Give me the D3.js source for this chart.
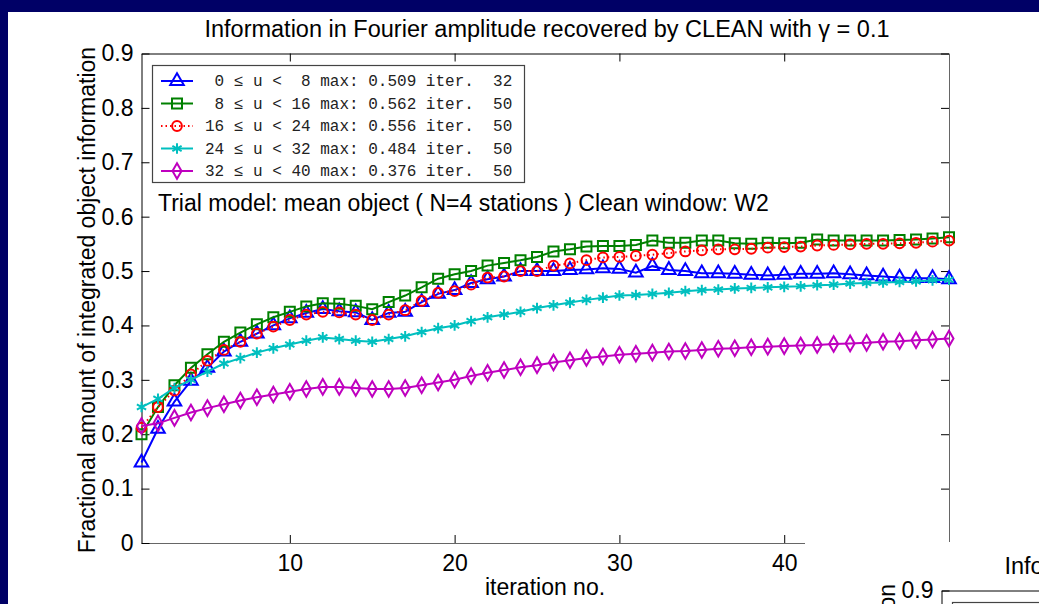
<!DOCTYPE html>
<html>
<head>
<script src="https://cdn.jsdelivr.net/npm/d3@7"></script>
<style>
body { margin: 0; background: #000066; }
text { font-family: "Liberation Sans", Arial, sans-serif; }
</style>
</head>
<body>
<script>
// iteration numbers 1..50
var iterations = d3.range(1, 51);

var band0 = [0.148, 0.210, 0.260, 0.298, 0.322, 0.352, 0.370, 0.385, 0.400, 0.413,
             0.423, 0.430, 0.426, 0.424, 0.410, 0.423, 0.425, 0.443, 0.458, 0.465,
             0.478, 0.485, 0.490, 0.500, 0.500, 0.500, 0.502, 0.503, 0.505, 0.504,
             0.497, 0.509, 0.502, 0.500, 0.496, 0.496, 0.495, 0.493, 0.492, 0.493,
             0.495, 0.495, 0.496, 0.494, 0.492, 0.490, 0.488, 0.487, 0.487, 0.485];
var band8 = [0.200, 0.250, 0.290, 0.322, 0.347, 0.370, 0.387, 0.402, 0.415, 0.425,
             0.435, 0.441, 0.440, 0.436, 0.430, 0.443, 0.455, 0.470, 0.486, 0.494,
             0.500, 0.510, 0.515, 0.520, 0.526, 0.536, 0.540, 0.545, 0.546, 0.546,
             0.548, 0.556, 0.552, 0.552, 0.556, 0.556, 0.551, 0.550, 0.552, 0.551,
             0.552, 0.558, 0.556, 0.556, 0.556, 0.556, 0.557, 0.558, 0.560, 0.562];
var band16 = [0.212, 0.250, 0.280, 0.310, 0.335, 0.355, 0.370, 0.385, 0.398, 0.410,
              0.420, 0.425, 0.424, 0.420, 0.410, 0.420, 0.428, 0.445, 0.460, 0.463,
              0.475, 0.488, 0.490, 0.500, 0.500, 0.510, 0.514, 0.520, 0.525, 0.526,
              0.528, 0.530, 0.533, 0.536, 0.538, 0.540, 0.540, 0.541, 0.543, 0.544,
              0.545, 0.547, 0.548, 0.549, 0.550, 0.550, 0.551, 0.552, 0.554, 0.556];
var band24 = [0.250, 0.265, 0.285, 0.300, 0.315, 0.330, 0.340, 0.350, 0.358, 0.365,
              0.372, 0.378, 0.375, 0.372, 0.370, 0.375, 0.380, 0.388, 0.395, 0.400,
              0.408, 0.415, 0.420, 0.425, 0.432, 0.437, 0.442, 0.447, 0.451, 0.455,
              0.456, 0.458, 0.460, 0.463, 0.465, 0.466, 0.468, 0.469, 0.470, 0.471,
              0.472, 0.474, 0.475, 0.477, 0.478, 0.479, 0.480, 0.481, 0.483, 0.484];
var band32 = [0.215, 0.220, 0.230, 0.240, 0.248, 0.255, 0.262, 0.268, 0.273, 0.278,
              0.283, 0.287, 0.287, 0.285, 0.283, 0.283, 0.285, 0.290, 0.295, 0.300,
              0.307, 0.313, 0.318, 0.323, 0.327, 0.332, 0.336, 0.340, 0.343, 0.346,
              0.348, 0.350, 0.352, 0.353, 0.355, 0.357, 0.358, 0.360, 0.361, 0.362,
              0.363, 0.364, 0.366, 0.367, 0.368, 0.370, 0.371, 0.373, 0.374, 0.376];

var legendLabels = [" 0 \u2264 u <  8 max: 0.509 iter.  32",
                    " 8 \u2264 u < 16 max: 0.562 iter.  50",
                    "16 \u2264 u < 24 max: 0.556 iter.  50",
                    "24 \u2264 u < 32 max: 0.484 iter.  50",
                    "32 \u2264 u < 40 max: 0.376 iter.  50"];
var xTicks = [10, 20, 30, 40];
var yTicks = [0, 0.1, 0.2, 0.3, 0.4, 0.5, 0.6, 0.7, 0.8, 0.9];

var series = [
  {values: band0,  color: "#0000ff", symbol: d3.symbolTriangle, size: 80, dash: null},
  {values: band8,  color: "#008000", symbol: d3.symbolSquare,   size: 100, dash: null},
  {values: band16, color: "#ff0000", symbol: d3.symbolCircle,   size: 75, dash: "1.5,3"},
  {values: band24, color: "#00bfbf", symbol: d3.symbolAsterisk, size: 80, dash: null},
  {values: band32, color: "#bf00bf", symbol: d3.symbolDiamond,  size: 70, dash: null}
];

var W = 1039, H = 604;
var svg = d3.select("body").append("svg")
  .attr("width", W).attr("height", H);

svg.append("rect").attr("width", W).attr("height", H).attr("fill", "#000066");

var plotLeft = 141.5, plotRight = 949, plotTop = 53.5, plotBottom = 543;
var x = d3.scaleLinear().domain([1, 50]).range([plotLeft, plotRight]);
var y = d3.scaleLinear().domain([0, 0.9]).range([plotBottom, plotTop]);

function drawChart(g, bgX, bgY) {
  g.append("rect").attr("x", bgX).attr("y", bgY).attr("width", 1200).attr("height", 700).attr("fill", "#fff");

  g.append("text").attr("x", 547).attr("y", 37).attr("text-anchor", "middle")
    .style("font-size", "23.5px")
    .text("Information in Fourier amplitude recovered by CLEAN with \u03b3 = 0.1");

  // axes with inward ticks
  var axB = g.append("g").attr("transform", "translate(0," + plotBottom + ")")
    .call(d3.axisBottom(x).tickValues(xTicks).tickSize(-8).tickPadding(12).tickSizeOuter(0));
  var axT = g.append("g").attr("transform", "translate(0," + plotTop + ")")
    .call(d3.axisTop(x).tickValues(xTicks).tickSize(-8).tickFormat("").tickSizeOuter(0));
  var axL = g.append("g").attr("transform", "translate(" + plotLeft + ",0)")
    .call(d3.axisLeft(y).tickValues(yTicks).tickSize(-8).tickPadding(8).tickSizeOuter(0)
      .tickFormat(function(d) { return d === 0 ? "0" : d3.format(".1f")(d); }));
  var axR = g.append("g").attr("transform", "translate(" + plotRight + ",0)")
    .call(d3.axisRight(y).tickValues(yTicks).tickSize(-8).tickFormat("").tickSizeOuter(0));
  [axB, axT, axL, axR].forEach(function(a) {
    a.selectAll("text").style("font-size", "23px").attr("fill", "#000")
      .style("font-family", "'Liberation Sans', Arial, sans-serif");
    a.selectAll("line").attr("stroke", "#000");
  });
  axB.select(".domain").attr("stroke", "#666");
  axR.select(".domain").attr("stroke", "#666");
  axT.select(".domain").attr("stroke", "#000");
  axL.select(".domain").attr("stroke", "#000");

  g.append("text").attr("x", 545).attr("y", 595).attr("text-anchor", "middle")
    .style("font-size", "23px").text("iteration no.");
  g.append("text").attr("transform", "translate(95,300) rotate(-90)").attr("text-anchor", "middle")
    .style("font-size", "23px").text("Fractional amount of integrated object information");

  // curves
  series.forEach(function(s) {
    var line = d3.line().x(function(d, i) { return x(iterations[i]); }).y(function(d) { return y(d); });
    g.append("path").datum(s.values).attr("d", line)
      .attr("fill", "none").attr("stroke", s.color).attr("stroke-width", 2)
      .attr("stroke-dasharray", s.dash);
    g.append("g").selectAll("path").data(s.values).join("path")
      .attr("transform", function(d, i) { return "translate(" + x(iterations[i]) + "," + y(d) + ")"; })
      .attr("d", d3.symbol().type(s.symbol).size(s.size))
      .attr("fill", "none").attr("stroke", s.color).attr("stroke-width", 2);
  });

  g.append("text").attr("x", 158).attr("y", 211).style("font-size", "23px")
    .text("Trial model: mean object ( N=4 stations ) Clean window: W2");

  // legend
  var lg = g.append("g");
  lg.append("rect").attr("x", 152.5).attr("y", 65.5).attr("width", 372).attr("height", 117)
    .attr("fill", "#fff").attr("stroke", "#444").attr("stroke-width", 1.2);
  series.forEach(function(s, i) {
    var ry = 81 + i * 22.5;
    lg.append("line").attr("x1", 161).attr("x2", 193).attr("y1", ry).attr("y2", ry)
      .attr("stroke", s.color).attr("stroke-width", 2).attr("stroke-dasharray", s.dash);
    lg.append("path").attr("transform", "translate(177," + ry + ")")
      .attr("d", d3.symbol().type(s.symbol).size(s.size))
      .attr("fill", "none").attr("stroke", s.color).attr("stroke-width", 2);
    lg.append("text").attr("x", 205).attr("y", ry + 5)
      .attr("xml:space", "preserve").style("white-space", "pre")
      .style("font-family", "'Liberation Mono', 'Courier New', monospace")
      .style("font-size", "16px").attr("fill", "#222")
      .text(legendLabels[i]);
  });
}

drawChart(svg.append("g"), 8, 12);
// the next slide's copy of the same figure shows in the bottom-right corner
drawChart(svg.append("g").attr("transform", "translate(800,537)"), 5, 5);
</script>
</body>
</html>
